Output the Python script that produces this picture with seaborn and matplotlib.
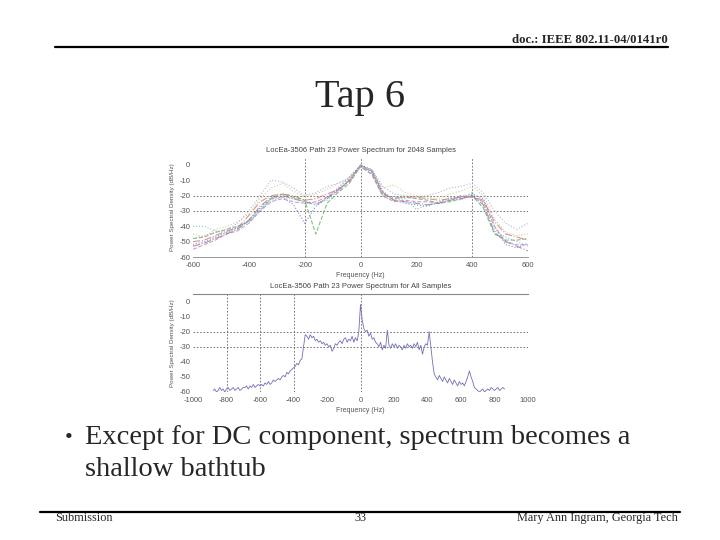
import numpy as np
import pandas as pd
import matplotlib
matplotlib.use("Agg")
import matplotlib.pyplot as plt
import seaborn as sns

# ---------------- data ----------------
top_title = "LocEa-3506 Path 23 Power Spectrum for 2048 Samples"
bot_title = "LocEa-3506 Path 23 Power Spectrum for All Samples"
xlabel = "Frequency (Hz)"
ylabel = "Power Spectral Density (dB/Hz)"

top_freq = [-600, -560, -520, -480, -440, -400, -360, -320, -280, -240, -200,
            -160, -120, -80, -40, 0, 40, 80, 120, 160, 200, 240, 280, 320,
            360, 400, 440, 480, 520, 560, 600]
s1 = [-52, -50, -47, -44, -41, -36, -28, -22, -21, -26, -38, -27, -21, -15, -8, 0, -3, -17, -23, -25, -26, -27, -24, -22, -21, -19, -22, -40, -52, -54, -51]
s2 = [-48, -47, -44, -42, -40, -37, -30, -22, -19, -21, -23, -45, -25, -18, -12, -1, -6, -20, -21, -21, -22, -23, -25, -24, -22, -20, -28, -45, -49, -49, -48]
s3 = [-50, -49, -46, -43, -41, -33, -24, -20, -19, -20, -23, -22, -19, -16, -11, -1, -4, -19, -22, -21, -21, -22, -23, -22, -21, -21, -23, -37, -45, -47, -49]
s4 = [-40, -40, -43, -44, -40, -37, -29, -23, -21, -22, -24, -25, -23, -17, -9, 0, -5, -21, -23, -22, -29, -26, -25, -21, -23, -18, -25, -43, -47, -50, -53]
s5 = [-55, -52, -49, -45, -43, -38, -30, -24, -22, -24, -25, -24, -21, -17, -10, -1, -6, -20, -24, -23, -24, -24, -25, -23, -20, -21, -24, -40, -50, -52, -52]
s6 = [-45, -47, -42, -40, -37, -32, -22, -15, -12, -17, -21, -19, -16, -12, -8, -2, -3, -15, -13, -18, -20, -21, -22, -19, -17, -14, -20, -35, -44, -46, -45]
s7 = [-53, -51, -48, -45, -42, -36, -27, -21, -20, -22, -24, -26, -22, -16, -10, 0, -4, -18, -23, -24, -25, -26, -25, -23, -22, -20, -26, -44, -50, -53, -56]
s8 = [-48, -46, -44, -42, -38, -30, -20, -10, -11, -15, -20, -18, -14, -12, -9, -1, -3, -14, -19, -20, -21, -20, -18, -15, -14, -12, -18, -30, -38, -42, -38]
top_series = [s1, s2, s3, s4, s5, s6, s7, s8]

bot_freq_start, bot_freq_step = -880, 10
bot_psd = [
    -59, -58, -60, -59, -57, -59, -58, -60, -58, -57, -59, -58, -57, -59, -58, -57, -59, -58, -57,
    -57, -56, -58, -56, -57, -55, -57, -56, -55, -56,
    -55, -56, -54, -55, -53, -55, -54, -52, -53, -52,
    -51, -52, -50, -49, -50, -47, -48, -46, -45, -44,
    -43, -41, -42, -39, -38, -30, -22, -23, -25, -22,
    -24, -23, -26, -25, -27, -26, -28, -27, -29, -28,
    -30, -29, -33, -31, -28, -29, -27, -26, -28, -25,
    -24, -27, -25, -26, -23, -27, -24, -26, -20, -2,
    -12, -18, -20, -19, -23, -21, -25, -24, -27, -28,
    -30, -27, -32, -29, -31, -19, -29, -31, -28, -30,
    -28, -31, -29, -30, -32, -29, -31, -28, -30, -29,
    -31, -28, -30, -27, -32, -29, -35, -30, -28, -29,
    -20, -30, -40, -48, -50, -52, -49, -51, -53, -50,
    -52, -54, -51, -53, -55, -52, -54, -56, -53, -55,
    -54, -56, -53, -50, -46, -50, -53, -57, -58, -59,
    -60, -59, -58, -60, -59, -58, -59, -57, -58, -59,
    -58, -57, -59, -58, -57, -58,
]
bot_freq = bot_freq_start + bot_freq_step * np.arange(len(bot_psd))

top_xticks = [-600, -400, -200, 0, 200, 400, 600]
bot_xticks = [-1000, -800, -600, -400, -200, 0, 200, 400, 600, 800, 1000]
yticks = [0, -10, -20, -30, -40, -50, -60]

# ---------------- style ----------------
sns.set_theme(style="white")
plt.rcParams['font.family'] = ['Liberation Sans', 'DejaVu Sans']
plt.rcParams['axes.unicode_minus'] = False

fig = plt.figure(figsize=(7.2, 5.4), dpi=100)
fig.patch.set_facecolor("white")

line_colors = ['#6a6ad8', '#6aae6a', '#d87878', '#62bccb', '#c886c8', '#c8c470', '#888888', '#a4a4dc']
line_styles = [':', '--', '-.', ':', '--', ':', '-.', ':']

tick_col = '#555555'
W = 720.0; H = 540.0

def fx(px):
    return px / W

def fy(py):
    return 1 - py / H

# top axes
ax1 = fig.add_axes([fx(193), fy(257), fx(528 - 193), (257 - 158) / H])
for s, c, ls in zip(top_series, line_colors, line_styles):
    sns.lineplot(x=top_freq, y=s, ax=ax1, color=c, linestyle=ls, linewidth=0.8, alpha=0.8)
ax1.set_xlim(-600, 600)
ax1.set_ylim(-60, 4.5)
for v in [-200, 0, 400]:
    ax1.axvline(v, color='#666666', linestyle=(0, (2, 2)), linewidth=0.6, zorder=0)
for h in [-20, -30]:
    ax1.axhline(h, color='#666666', linestyle=(0, (2, 2)), linewidth=0.6, zorder=0)
ax1.set_xticks(top_xticks)
ax1.set_yticks(yticks)
ax1.set_title(top_title, fontsize=5.5, color='#444444', pad=4)

# bottom axes
ax2 = fig.add_axes([fx(193), fy(392), fx(528 - 193), (392 - 294) / H])
sns.lineplot(x=bot_freq, y=bot_psd, ax=ax2, color='#7070b8', linestyle='-', linewidth=0.6)
ax2.set_xlim(-1000, 1000)
ax2.set_ylim(-60, 5)
for v in [-800, -600, -400, 0]:
    ax2.axvline(v, color='#666666', linestyle=(0, (2, 2)), linewidth=0.6, zorder=0)
for h in [-20, -30]:
    ax2.axhline(h, color='#666666', linestyle=(0, (2, 2)), linewidth=0.6, zorder=0)
ax2.set_xticks(bot_xticks)
ax2.set_yticks(yticks)
ax2.set_title(bot_title, fontsize=5.5, color='#444444', pad=4)

for ax, show_bottom in [(ax1, True), (ax2, False)]:
    for side in ['left', 'right', 'top', 'bottom']:
        ax.spines[side].set_visible(False)
    if show_bottom:
        ax.spines['bottom'].set_visible(True)
        ax.spines['bottom'].set_color('#888888')
        ax.spines['bottom'].set_linewidth(0.6)
    else:
        ax.spines['top'].set_visible(True)
        ax.spines['top'].set_color('#888888')
        ax.spines['top'].set_linewidth(0.8)
    ax.tick_params(axis='y', length=0, labelsize=5.5, labelcolor=tick_col, pad=2)
    ax.tick_params(axis='x', length=0, labelsize=5.5, labelcolor=tick_col, pad=3.5)
    ax.set_xlabel(xlabel, fontsize=5, color=tick_col, labelpad=2)
    ax.set_ylabel(ylabel, fontsize=4.5, color=tick_col, labelpad=3)
    ax.set_facecolor('white')
    ax.grid(False)

# ---------------- slide text ----------------
serif = ['Liberation Serif', 'DejaVu Serif']
fig.text(fx(668), fy(40), "doc.: IEEE 802.11-04/0141r0", ha='right', va='center',
         fontsize=9.2, fontweight='bold', family=serif)
fig.add_artist(plt.Line2D([fx(55), fx(668)], [fy(47), fy(47)], color='black', linewidth=1.6))
fig.text(0.5, fy(97), "Tap 6", ha='center', va='center', fontsize=29, family=serif)
fig.text(fx(65), fy(438), "\u2022", ha='left', va='center', fontsize=16, family=serif)
fig.text(fx(85), fy(438), "Except for DC component, spectrum becomes a", ha='left', va='center',
         fontsize=20.5, family=serif)
fig.text(fx(85), fy(469), "shallow bathtub", ha='left', va='center', fontsize=20.5, family=serif)
fig.add_artist(plt.Line2D([fx(40), fx(680)], [fy(512), fy(512)], color='black', linewidth=1.6))
fig.text(fx(55), fy(518), "Submission", ha='left', va='center', fontsize=8.8, family=serif)
fig.text(0.5, fy(518), "33", ha='center', va='center', fontsize=8.8, family=serif)
fig.text(fx(678), fy(518), "Mary Ann Ingram, Georgia Tech", ha='right', va='center', fontsize=8.8, family=serif)

fig.savefig("out.png", dpi=100, facecolor='white')
